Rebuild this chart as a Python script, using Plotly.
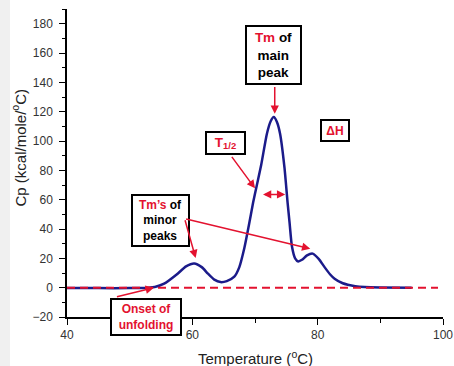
import plotly.graph_objects as go

# Temperature (°C) and heat capacity Cp (kcal/mole/°C)
temperature = [40, 45, 50, 53, 54, 55.5, 57.5, 59, 60.3, 61.5, 62.5, 63.5, 64.5, 65.5,
               66.7, 67.5, 68.3, 69, 69.7, 70.3, 71, 71.9, 72.5, 73, 73.5, 74, 74.7,
               75.2, 75.5, 75.9, 76.4, 76.9, 77.5, 78.3, 79.2, 80.2, 81.1, 82, 82.7,
               84, 84.8, 86, 87.5, 90, 95]
cp = [-0.3, -0.3, -0.3, 0, 0.4, 2.7, 9, 14.5, 16.5, 14, 9.5, 5.5, 3.8, 4.5,
      7.5, 14, 27, 42, 58, 70, 84, 105, 113.5, 116.3, 113, 105, 82,
      58, 45, 28, 20, 17.9, 19, 22, 23.2, 19.5, 14, 9, 6.1,
      3, 2, 1, 0.4, 0.1, 0]

baseline_t = [40, 99.2]
baseline_cp = [0, 0]

x_ticks = [40, 60, 80, 100]
y_ticks = [-20, 0, 20, 40, 60, 80, 100, 120, 140, 160, 180]

RED = "#e3122f"
NAVY = "#1b1b8a"

fig = go.Figure()
fig.add_trace(go.Scatter(x=temperature, y=cp, mode="lines",
                         line=dict(color=NAVY, width=2.5, shape="spline", smoothing=0.6),
                         hoverinfo="skip"))
fig.add_trace(go.Scatter(x=baseline_t, y=baseline_cp, mode="lines",
                         line=dict(color=RED, width=2, dash="8px,5px"),
                         hoverinfo="skip"))

W, H = 454, 366
L, R, T, B = 67, 11, 9, 49
pw, ph = W - L - R, H - T - B

fig.update_layout(
    width=W, height=H,
    margin=dict(l=L, r=R, t=T, b=B),
    paper_bgcolor="white", plot_bgcolor="white",
    showlegend=False,
    font=dict(family="Liberation Sans, Arial, sans-serif", color="#333333", size=12),
)
fig.update_xaxes(range=[40, 100], tickvals=x_ticks, showgrid=False, zeroline=False,
                 automargin=False,
                 showline=True, linecolor="black", linewidth=1.5,
                 ticks="outside", ticklen=6, tickwidth=1.2, tickcolor="black",
                 minor=dict(dtick=10, ticks="outside", ticklen=4, tickwidth=1.2, tickcolor="black"),
                 tickfont=dict(size=12, color="#333333"))
fig.update_yaxes(range=[-20, 190], tickvals=y_ticks, showgrid=False, zeroline=False,
                 automargin=False,
                 showline=True, linecolor="black", linewidth=1.5,
                 ticks="outside", ticklen=6, tickwidth=1.2, tickcolor="black",
                 minor=dict(dtick=10, ticks="outside", ticklen=3, tickwidth=1.2, tickcolor="black"),
                 tickfont=dict(size=12, color="#333333"), ticklabelstandoff=4)

# left grey strip of the page
fig.add_shape(type="rect", xref="paper", yref="paper",
              x0=-L / pw, x1=(10 - L) / pw, y0=-B / ph - 0.01, y1=1 + T / ph + 0.01,
              fillcolor="#f0f0f0", line_width=0, layer="below")

# axis titles
fig.add_annotation(xref="paper", yref="paper", x=(18.5 - L) / pw, y=(H - B - 148) / ph,
                   text="Cp (kcal/mole/<sup>o</sup>C)", textangle=-90, showarrow=False,
                   font=dict(size=15, color="#222222"), xanchor="center", yanchor="middle")
fig.add_annotation(xref="paper", yref="paper", x=0.5, y=(H - B - 357) / ph,
                   text="Temperature (<sup>o</sup>C)", showarrow=False,
                   font=dict(size=15, color="#222222"), xanchor="center", yanchor="middle")

BOLD = dict(family="Liberation Sans, Arial, sans-serif", color="black")


def box(x, y, text, w, h, size):
    fig.add_annotation(x=x, y=y, text=text, showarrow=False, width=w - 4, height=h - 4,
                       bordercolor="black", borderwidth=2, borderpad=0, bgcolor="white",
                       align="center", valign="middle",
                       font=dict(BOLD, size=size))


def arrow(x0, y0, x1, y1, side="end"):
    fig.add_annotation(x=x1, y=y1, ax=x0, ay=y0, axref="x", ayref="y", text="",
                       showarrow=True, arrowhead=2, arrowsize=1.1, arrowwidth=1.5,
                       arrowcolor=RED, arrowside=side, standoff=0, startstandoff=0)


# Tm of main peak
box(72.96, 158.7, f"<b><span style='color:{RED}'>Tm</span> of<br>main<br>peak</b>", 57, 60, 13.5)
arrow(73.15, 137.9, 73.15, 118.6)

# T1/2
box(65.28, 98.7, f"<b><span style='color:{RED}'>T<sub>1/2</sub></span></b>", 41, 24, 13.5)
arrow(66.13, 90.2, 70.0, 67.7)
arrow(71.04, 63.6, 74.82, 63.6, side="end+start")

# Delta H
box(82.8, 107.4, f"<b><span style='color:{RED}'>ΔH</span></b>", 30, 23, 12)

# Tm's of minor peaks
box(54.88, 45.9, f"<b><span style='color:{RED}'>Tm’s</span> of<br>minor<br>peaks</b>", 59, 53, 12)
arrow(58.77, 47.0, 60.53, 20.2)
arrow(58.77, 47.0, 78.82, 26.6)

# Onset of unfolding
box(52.67, -19.9, f"<b><span style='color:{RED}'>Onset of<br>unfolding</span></b>", 72, 38, 12)
arrow(47.73, -6.4, 53.86, 0)

fig.write_html("out.html")
